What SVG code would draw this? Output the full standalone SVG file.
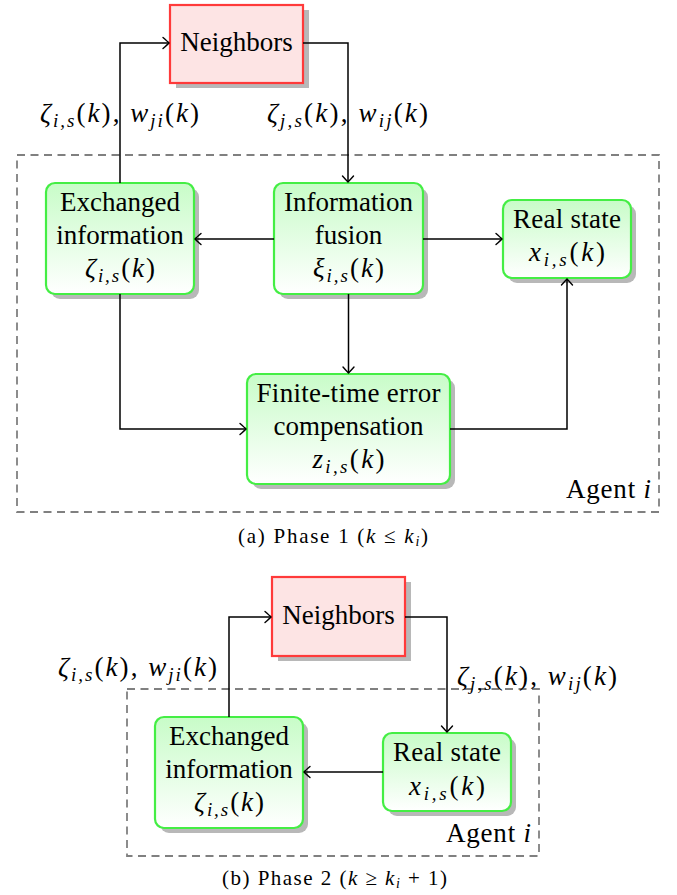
<svg xmlns="http://www.w3.org/2000/svg" width="677" height="895" viewBox="0 0 677 895" font-family="'Liberation Serif', 'Times New Roman', serif">
<defs>
  <linearGradient id="gfill" x1="0" y1="0" x2="0" y2="1">
    <stop offset="0" stop-color="#c8fcc8"/>
    <stop offset="1" stop-color="#ffffff"/>
  </linearGradient>
  <marker id="arr" markerUnits="userSpaceOnUse" markerWidth="14" markerHeight="14" refX="0" refY="0" viewBox="-8 -7 10 14" orient="auto">
    <path d="M-6,-5.5 Q-1.5,-1.5 0,0 Q-1.5,1.5 -6,5.5" fill="none" stroke="#000" stroke-width="1.4" stroke-linecap="round"/>
  </marker>
</defs>
<style>
  text, tspan { font-family: "Liberation Serif", "Times New Roman", serif; fill: #000; }
  .t { font-size: 27px; text-anchor: middle; }
  .m { font-style: italic; }
  .s { font-size: 19px; font-style: italic; }
  .cap { font-size: 21px; text-anchor: middle; }
  .shadow { fill: #b8b8b8; }
  .gbox { fill: url(#gfill); stroke: #44ee44; stroke-width: 2.2; }
  .rbox { fill: #fde4e4; stroke: #ff3a3a; stroke-width: 2.2; }
  .dash { fill: none; stroke: #808080; stroke-width: 1.8; stroke-dasharray: 8 5.5; }
  .conn path { fill: none; stroke: #000; stroke-width: 1.5; marker-end: url(#arr); }
</style>
<rect width="677" height="895" fill="#fff"/>

<!-- ===== Phase 1 ===== -->
<rect class="dash" x="17" y="155" width="642" height="357"/>

<g id="neighbors1">
  <rect class="shadow" x="176" y="10" width="133" height="78"/>
  <rect class="rbox" x="170" y="5" width="133" height="78"/>
  <text class="t" x="236.5" y="51">Neighbors</text>
</g>

<g id="exchanged1">
  <rect class="shadow" x="51" y="188" width="148" height="111" rx="9"/>
  <rect class="gbox" x="46" y="183" width="148" height="111" rx="9"/>
  <text class="t" x="120" y="211">Exchanged</text>
  <text class="t" x="120" y="244">information</text>
  <text class="t" x="120" y="277" textLength="70" lengthAdjust="spacing"><tspan class="m">ζ</tspan><tspan class="s" dy="5">i,s</tspan><tspan dy="-5">(</tspan><tspan class="m">k</tspan>)</text>
</g>

<g id="fusion1">
  <rect class="shadow" x="279" y="188" width="149" height="111" rx="9"/>
  <rect class="gbox" x="274" y="183" width="149" height="111" rx="9"/>
  <text class="t" x="348.5" y="211">Information</text>
  <text class="t" x="348.5" y="244">fusion</text>
  <text class="t" x="348.5" y="277" textLength="71" lengthAdjust="spacing"><tspan class="m">ξ</tspan><tspan class="s" dy="5">i,s</tspan><tspan dy="-5">(</tspan><tspan class="m">k</tspan>)</text>
</g>

<g id="realstate1">
  <rect class="shadow" x="508" y="205" width="128" height="78" rx="9"/>
  <rect class="gbox" x="503" y="200" width="128" height="78" rx="9"/>
  <text class="t" x="567" y="228" textLength="108" lengthAdjust="spacing">Real state</text>
  <text class="t" x="567" y="261" textLength="76" lengthAdjust="spacing"><tspan class="m">x</tspan><tspan class="s" dy="5">i,s</tspan><tspan dy="-5">(</tspan><tspan class="m">k</tspan>)</text>
</g>

<g id="finite1">
  <rect class="shadow" x="252" y="379" width="203" height="110" rx="9"/>
  <rect class="gbox" x="247" y="374" width="203" height="110" rx="9"/>
  <text class="t" x="348.5" y="402" textLength="184" lengthAdjust="spacing">Finite-time error</text>
  <text class="t" x="348.5" y="435">compensation</text>
  <text class="t" x="348.5" y="468" textLength="72" lengthAdjust="spacing"><tspan class="m">z</tspan><tspan class="s" dy="5">i,s</tspan><tspan dy="-5">(</tspan><tspan class="m">k</tspan>)</text>
</g>

<g id="connectors1" class="conn">
  <path d="M120,183 V43 H169"/>
  <path d="M303,43 H348 V182"/>
  <path d="M274,239 H195"/>
  <path d="M423,239 H502"/>
  <path d="M348.5,294 V373"/>
  <path d="M120,294 V429 H246"/>
  <path d="M450,429 H567 V279"/>
</g>

<text class="t" x="119.5" y="122" textLength="159" lengthAdjust="spacing"><tspan class="m">ζ</tspan><tspan class="s" dy="5">i,s</tspan><tspan dy="-5">(</tspan><tspan class="m">k</tspan>), <tspan class="m">w</tspan><tspan class="s" dy="5">ji</tspan><tspan dy="-5">(</tspan><tspan class="m">k</tspan>)</text>
<text class="t" x="347.5" y="122" textLength="161" lengthAdjust="spacing"><tspan class="m">ζ</tspan><tspan class="s" dy="5">j,s</tspan><tspan dy="-5">(</tspan><tspan class="m">k</tspan>), <tspan class="m">w</tspan><tspan class="s" dy="5">ij</tspan><tspan dy="-5">(</tspan><tspan class="m">k</tspan>)</text>

<text class="t" x="651" y="498" style="text-anchor:end" textLength="85" lengthAdjust="spacing">Agent <tspan class="m">i</tspan></text>

<text class="cap" x="333" y="543" textLength="190" lengthAdjust="spacing">(a) Phase 1 (<tspan class="m">k</tspan> ≤ <tspan class="m">k</tspan><tspan font-size="14" class="m" dy="3">i</tspan><tspan dy="-3">)</tspan></text>

<!-- ===== Phase 2 ===== -->
<rect class="dash" x="127" y="689" width="412" height="167"/>

<g id="neighbors2">
  <rect class="shadow" x="278" y="582" width="133" height="79"/>
  <rect class="rbox" x="272" y="577" width="133" height="79"/>
  <text class="t" x="338.5" y="624">Neighbors</text>
</g>

<g id="exchanged2">
  <rect class="shadow" x="160" y="722" width="148" height="111" rx="9"/>
  <rect class="gbox" x="155" y="717" width="148" height="111" rx="9"/>
  <text class="t" x="229" y="745">Exchanged</text>
  <text class="t" x="229" y="778">information</text>
  <text class="t" x="229" y="811" textLength="70" lengthAdjust="spacing"><tspan class="m">ζ</tspan><tspan class="s" dy="5">i,s</tspan><tspan dy="-5">(</tspan><tspan class="m">k</tspan>)</text>
</g>

<g id="realstate2">
  <rect class="shadow" x="388" y="738" width="128" height="78" rx="9"/>
  <rect class="gbox" x="383" y="733" width="128" height="78" rx="9"/>
  <text class="t" x="447" y="761" textLength="108" lengthAdjust="spacing">Real state</text>
  <text class="t" x="447" y="795" textLength="76" lengthAdjust="spacing"><tspan class="m">x</tspan><tspan class="s" dy="5">i,s</tspan><tspan dy="-5">(</tspan><tspan class="m">k</tspan>)</text>
</g>

<g id="connectors2" class="conn">
  <path d="M229,717 V617 H271"/>
  <path d="M405,617 H447 V732"/>
  <path d="M383,772 H304"/>
</g>

<text class="t" x="137.5" y="676" textLength="159" lengthAdjust="spacing"><tspan class="m">ζ</tspan><tspan class="s" dy="5">i,s</tspan><tspan dy="-5">(</tspan><tspan class="m">k</tspan>), <tspan class="m">w</tspan><tspan class="s" dy="5">ji</tspan><tspan dy="-5">(</tspan><tspan class="m">k</tspan>)</text>
<text class="t" x="537" y="685" textLength="160" lengthAdjust="spacing"><tspan class="m">ζ</tspan><tspan class="s" dy="5">j,s</tspan><tspan dy="-5">(</tspan><tspan class="m">k</tspan>), <tspan class="m">w</tspan><tspan class="s" dy="5">ij</tspan><tspan dy="-5">(</tspan><tspan class="m">k</tspan>)</text>

<text class="t" x="531" y="842" style="text-anchor:end" textLength="85" lengthAdjust="spacing">Agent <tspan class="m">i</tspan></text>

<text class="cap" x="334.5" y="885" textLength="225" lengthAdjust="spacing">(b) Phase 2 (<tspan class="m">k</tspan> ≥ <tspan class="m">k</tspan><tspan font-size="14" class="m" dy="3">i</tspan><tspan dy="-3"> + 1)</tspan></text>
</svg>
